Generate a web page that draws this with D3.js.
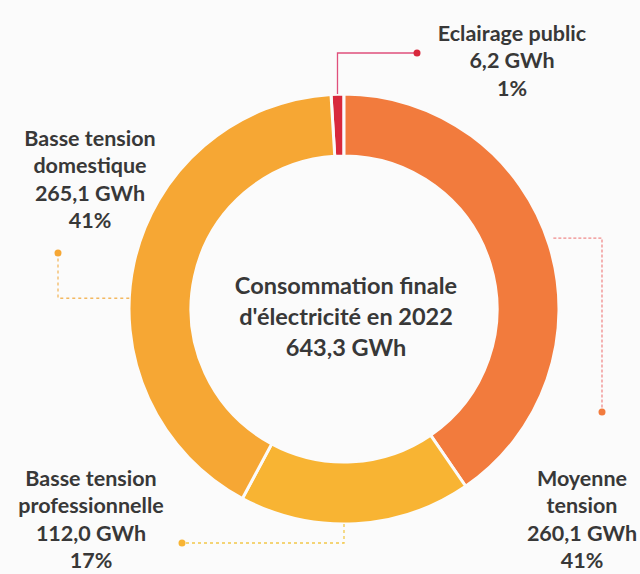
<!DOCTYPE html>
<html>
<head>
<meta charset="utf-8">
<script src="https://cdn.jsdelivr.net/npm/d3@7"></script>
<style>
  body { margin: 0; background: #fbfbfb; }
  svg { display: block; }
</style>
</head>
<body>
<div class="donut"></div>
<script>
var categories = ["Eclairage public", "Moyenne tension", "Basse tension professionnelle", "Basse tension domestique"];
var values = [6.2, 260.1, 112.0, 265.1];
var valueLabels = ["6,2 GWh", "260,1 GWh", "112,0 GWh", "265,1 GWh"];
var pctLabels = ["1%", "41%", "17%", "41%"];
var labelLines = [["Eclairage public"], ["Moyenne", "tension"], ["Basse tension", "professionnelle"], ["Basse tension", "domestique"]];
var centerLines = ["Consommation finale", "d'électricité en 2022", "643,3 GWh"];

var colors = ["#d8283c", "#f27b3d", "#f8b433", "#f6a734"];
var leaderColors = ["#e0507c", "#f08a8a", "#f2c84a", "#f3b860"];

var width = 640, height = 574;
var cx = 344, cy = 309;
var outerR = 215, innerR = 153;

var svg = d3.select(".donut")
    .append("svg")
    .attr("width", width)
    .attr("height", height)

var total = d3.sum(values);
var start = -values[0] / total * 2 * Math.PI;

var pie = d3.pie()
    .sort(null)
    .startAngle(start)
    .endAngle(start + 2 * Math.PI);

var arc = d3.arc()
    .innerRadius(innerR)
    .outerRadius(outerR);

var g = svg.append("g")
    .attr("transform", "translate(" + cx + "," + cy + ")")

var arcs = pie(values);

g.selectAll("path")
    .data(arcs)
    .enter()
    .append("path")
    .attr("d", arc)
    .attr("fill", function (d, i) { return colors[i]; })
    .style("stroke", "#fbfbfb")
    .style("stroke-width", 3)

// leader lines: anchor angle on the ring (fraction through the slice) and elbow
var leaders = [
    { t: 0.5, r: outerR, path: function (p) { return [p, [p[0], 53], [417, 53]]; }, dash: null },
    { t: 0.49, r: outerR + 6, path: function (p) { return [p, [602, p[1]], [602, 412]]; }, dash: "3,2" },
    { t: 0.55, r: outerR, path: function (p) { return [p, [p[0], 543], [182, 543]]; }, dash: "3,3" },
    { t: 0.436, r: outerR, path: function (p) { return [p, [58, p[1]], [58, 253]]; }, dash: "3,3" }
];

var line = d3.line();

arcs.forEach(function (d, i) {
    var L = leaders[i];
    var a = d.startAngle + (d.endAngle - d.startAngle) * L.t;
    var p = [cx + L.r * Math.sin(a), cy - L.r * Math.cos(a)];
    var pts = L.path(p);
    svg.append("path")
        .attr("d", line(pts))
        .attr("fill", "none")
        .style("stroke", leaderColors[i])
        .style("stroke-width", 1.3)
        .style("stroke-dasharray", L.dash)
    svg.append("circle")
        .attr("cx", pts[2][0])
        .attr("cy", pts[2][1])
        .attr("r", 3.5)
        .style("fill", i == 0 ? "#d8283c" : colors[i])
});

// labels
var labelPos = [[512, 33], [582, 478], [91, 478], [90, 138]];
var lh = 27.5;

labelLines.forEach(function (lines, i) {
    var rows = lines.concat([valueLabels[i], pctLabels[i]]);
    rows.forEach(function (t, k) {
        svg.append("text")
            .attr("x", labelPos[i][0])
            .attr("y", labelPos[i][1] + k * lh)
            .attr("dy", "0.35em")
            .attr("text-anchor", "middle")
            .text(t)
            .style("font-size", "21.5px")
            .style("font-weight", "bold")
            .attr("font-family", "Lato, sans-serif")
            .attr("fill", "#383838")
    });
});

centerLines.forEach(function (t, k) {
    svg.append("text")
        .attr("x", 346)
        .attr("y", 286 + k * 31)
        .attr("dy", "0.35em")
        .attr("text-anchor", "middle")
        .text(t)
        .style("font-size", "23.5px")
        .style("font-weight", "bold")
        .attr("font-family", "Lato, sans-serif")
        .attr("fill", "#383838")
});
</script>
</body>
</html>
